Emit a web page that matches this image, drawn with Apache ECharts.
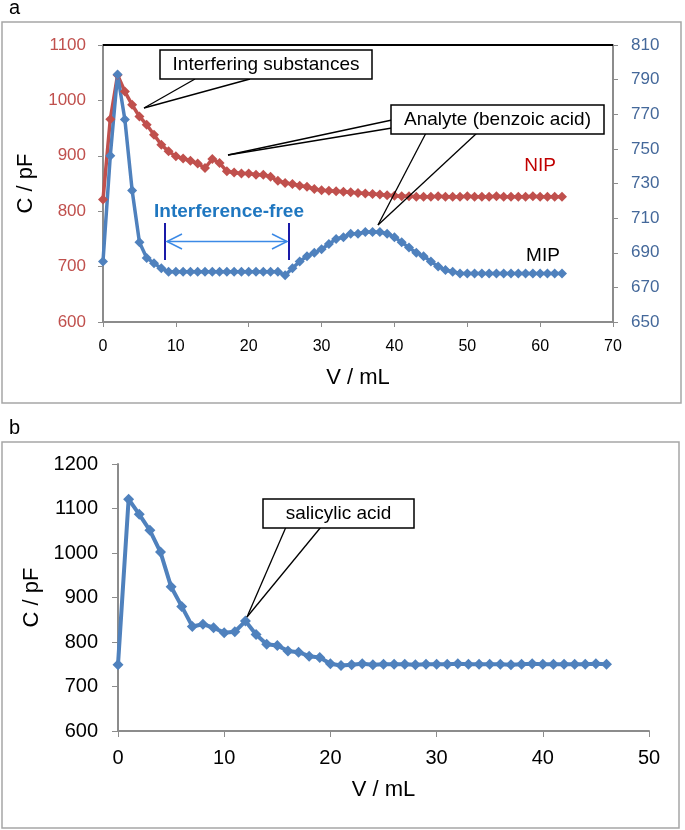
<!DOCTYPE html>
<html>
<head>
<meta charset="utf-8">
<script src="https://cdn.jsdelivr.net/npm/echarts@6/dist/echarts.min.js"></script>
<style>
  html, body { margin: 0; padding: 0; background: #fff; }
  #chart { width: 685px; height: 830px; }
</style>
</head>
<body>
<div id="chart"></div>
<script>
// panel a : volume (mL) and capacitance (pF)
var volA = [0, 1, 2, 3, 4, 5, 6, 7, 8, 9, 10, 11, 12, 13, 14, 15, 16, 17, 18, 19,
  20, 21, 22, 23, 24, 25, 26, 27, 28, 29, 30, 31, 32, 33, 34, 35, 36, 37, 38, 39,
  40, 41, 42, 43, 44, 45, 46, 47, 48, 49, 50, 51, 52, 53, 54, 55, 56, 57, 58, 59,
  60, 61, 62, 63]
var nipValues = [821, 966, 1046, 1016, 992, 971, 956, 938, 920, 908, 899, 895, 891, 886, 878, 894, 887, 872, 870, 868,
  868, 866, 866, 862, 855, 851, 849, 846, 844, 840, 838, 837, 836, 835, 834, 833, 832, 831, 830, 829,
  828, 827, 827, 826, 826, 826, 827, 826, 826, 826, 827, 826, 826, 826, 827, 826, 826, 826, 826, 827,
  826, 826, 826, 826]
var mipValues = [685, 746, 793, 767, 726, 696, 687, 684, 681, 679, 679, 679, 679, 679, 679, 679, 679, 679, 679, 679,
  679, 679, 679, 679, 679, 677, 681, 685, 688, 690, 692, 695, 698, 699, 701, 701, 702, 702, 702, 701,
  699, 696, 693, 690, 688, 685, 682, 680, 679, 678, 678, 678, 678, 678, 678, 678, 678, 678, 678, 678,
  678, 678, 678, 678]
var rightTicksA = [650, 670, 690, 710, 730, 750, 770, 790, 810]

// panel b
var volB = [0, 1, 2, 3, 4, 5, 6, 7, 8, 9, 10, 11, 12, 13, 14, 15, 16, 17, 18, 19,
  20, 21, 22, 23, 24, 25, 26, 27, 28, 29, 30, 31, 32, 33, 34, 35, 36, 37, 38, 39,
  40, 41, 42, 43, 44, 45, 46]
var salValues = [749, 1121, 1087, 1051, 1002, 924, 880, 835, 840, 832, 821, 823, 847, 817, 795, 792, 780, 777, 768, 765,
  751, 747, 749, 751, 749, 750, 750, 750, 749, 750, 750, 750, 751, 750, 750, 750, 750, 749, 750, 751,
  750, 750, 750, 750, 750, 751, 750]

function pairs(xs, ys) {
  var out = []
  for (var i = 0; i < ys.length; i++) out.push([xs[i], ys[i]])
  return out
}

var FONT = 'Liberation Sans, Arial, sans-serif'
var RED = '#c0504d'
var BLUE = '#4f81bd'
var AXIS = '#8c8c8c'
var plain = function (v) { return String(v) }

// callout box + leader lines
function callout(box, text, lines, fontSize) {
  var els = []
  lines.forEach(function (l) {
    els.push({ type: 'line', z: 10, shape: { x1: l[0], y1: l[1], x2: l[2], y2: l[3] },
      style: { stroke: '#000', lineWidth: 1.3 } })
  })
  els.push({ type: 'rect', z: 11, shape: { x: box[0], y: box[1], width: box[2], height: box[3] },
    style: { fill: '#fff', stroke: '#000', lineWidth: 1.5 } })
  els.push({ type: 'text', z: 12, x: box[0] + box[2] / 2, y: box[1] + box[3] / 2,
    style: { text: text, font: fontSize + 'px ' + FONT, fill: '#000', align: 'center', verticalAlign: 'middle' } })
  return els
}

var chart = echarts.init(document.getElementById('chart'))

var graphics = [
  // frames
  { type: 'rect', z: 0, shape: { x: 2, y: 22, width: 679, height: 381 }, style: { fill: 'none', stroke: '#a6a6a6', lineWidth: 1.5 } },
  { type: 'rect', z: 0, shape: { x: 2, y: 442, width: 677, height: 386 }, style: { fill: 'none', stroke: '#a6a6a6', lineWidth: 1.5 } },
  { type: 'text', x: 9, y: 8, style: { text: 'a', font: '20px ' + FONT, fill: '#000', verticalAlign: 'middle' } },
  { type: 'text', x: 9, y: 428, style: { text: 'b', font: '20px ' + FONT, fill: '#000', verticalAlign: 'middle' } },
  // top border line of panel a
  { type: 'line', z: 5, shape: { x1: 103, y1: 45, x2: 613, y2: 45 }, style: { stroke: '#000', lineWidth: 2 } },
  // series labels
  { type: 'text', x: 540, y: 166, style: { text: 'NIP', font: '19px ' + FONT, fill: '#c00000', align: 'center', verticalAlign: 'middle' } },
  { type: 'text', x: 543, y: 256, style: { text: 'MIP', font: '19px ' + FONT, fill: '#000', align: 'center', verticalAlign: 'middle' } },
  // interference-free window
  { type: 'text', x: 229, y: 212, style: { text: 'Interference-free', font: 'bold 19px ' + FONT, fill: '#1f77c0', align: 'center', verticalAlign: 'middle' } },
  { type: 'line', shape: { x1: 165, y1: 223, x2: 165, y2: 260 }, style: { stroke: '#1a1aa8', lineWidth: 2 } },
  { type: 'line', shape: { x1: 289, y1: 223, x2: 289, y2: 260 }, style: { stroke: '#1a1aa8', lineWidth: 2 } },
  { type: 'line', shape: { x1: 167, y1: 241.5, x2: 287, y2: 241.5 }, style: { stroke: '#3c8ae6', lineWidth: 1.5 } },
  { type: 'polyline', shape: { points: [[182, 234], [167, 241.5], [182, 249]] }, style: { stroke: '#3c8ae6', lineWidth: 1.5, fill: 'none' } },
  { type: 'polyline', shape: { points: [[272, 234], [287, 241.5], [272, 249]] }, style: { stroke: '#3c8ae6', lineWidth: 1.5, fill: 'none' } }
]
graphics = graphics.concat(
  callout([160, 50, 212, 29], 'Interfering substances', [[195, 79, 144, 108], [250, 79, 144, 108]], 19),
  callout([391, 105, 213, 29], 'Analyte (benzoic acid)',
    [[392, 120, 228, 155], [392, 128, 228, 155], [426, 133, 378, 225], [477, 133, 378, 225]], 19),
  callout([263, 499, 151, 29], 'salicylic acid', [[286, 527, 247, 617], [321, 527, 247, 617]], 19)
)

var option = {
  animation: false,
  textStyle: { fontFamily: FONT },
  grid: [
    { left: 103, right: 72, top: 45, height: 277 },
    { left: 118, right: 36, top: 464, height: 267 }
  ],
  xAxis: [
    {
      gridIndex: 0, type: 'value', min: 0, max: 70, interval: 10,
      name: 'V / mL', nameLocation: 'middle', nameGap: 45,
      nameTextStyle: { fontSize: 22, color: '#000' },
      axisLine: { lineStyle: { color: AXIS, width: 2 } },
      axisTick: { show: true, inside: false, length: 5, lineStyle: { color: AXIS } },
      axisLabel: { fontSize: 16, color: '#000', margin: 17, formatter: plain },
      splitLine: { show: false }
    },
    {
      gridIndex: 1, type: 'value', min: 0, max: 50, interval: 10,
      name: 'V / mL', nameLocation: 'middle', nameGap: 48,
      nameTextStyle: { fontSize: 22, color: '#000' },
      axisLine: { lineStyle: { color: AXIS, width: 2 } },
      axisTick: { show: true, length: 6, lineStyle: { color: AXIS } },
      axisLabel: { fontSize: 20, color: '#000', margin: 17, formatter: plain },
      splitLine: { show: false }
    }
  ],
  yAxis: [
    {
      gridIndex: 0, type: 'value', min: 600, max: 1100, interval: 100,
      name: 'C / pF', nameLocation: 'middle', nameGap: 50,
      nameTextStyle: { fontSize: 22, color: '#000' },
      axisLine: { show: true, lineStyle: { color: AXIS, width: 2 } },
      axisTick: { show: true, length: 5, lineStyle: { color: AXIS } },
      axisLabel: { fontSize: 17, color: RED, margin: 17, formatter: plain },
      splitLine: { show: false }
    },
    {
      gridIndex: 0, type: 'value', min: 650, max: 810, position: 'right',
      axisLine: { show: true, lineStyle: { color: AXIS, width: 2 } },
      axisTick: { show: true, length: 5, lineStyle: { color: AXIS }, customValues: rightTicksA },
      axisLabel: { fontSize: 17, color: '#44689a', margin: 18, customValues: rightTicksA, formatter: plain },
      splitLine: { show: false }
    },
    {
      gridIndex: 1, type: 'value', min: 600, max: 1200, interval: 100,
      name: 'C / pF', nameLocation: 'middle', nameGap: 51,
      nameTextStyle: { fontSize: 22, color: '#000' },
      axisLine: { show: true, lineStyle: { color: AXIS, width: 2 } },
      axisTick: { show: true, length: 6, lineStyle: { color: AXIS } },
      axisLabel: { fontSize: 20, color: '#000', margin: 20, formatter: plain },
      splitLine: { show: false }
    }
  ],
  series: [
    {
      name: 'NIP', type: 'line', xAxisIndex: 0, yAxisIndex: 0,
      data: pairs(volA, nipValues),
      symbol: 'diamond', symbolSize: 10,
      itemStyle: { color: RED },
      lineStyle: { color: RED, width: 3.5 }
    },
    {
      name: 'MIP', type: 'line', xAxisIndex: 0, yAxisIndex: 1,
      data: pairs(volA, mipValues),
      symbol: 'diamond', symbolSize: 10,
      itemStyle: { color: BLUE },
      lineStyle: { color: BLUE, width: 3.5 }
    },
    {
      name: 'salicylic', type: 'line', xAxisIndex: 1, yAxisIndex: 2,
      data: pairs(volB, salValues),
      symbol: 'diamond', symbolSize: 11,
      itemStyle: { color: BLUE },
      lineStyle: { color: BLUE, width: 4 }
    }
  ],
  graphic: graphics
}

chart.setOption(option)
</script>
</body>
</html>
